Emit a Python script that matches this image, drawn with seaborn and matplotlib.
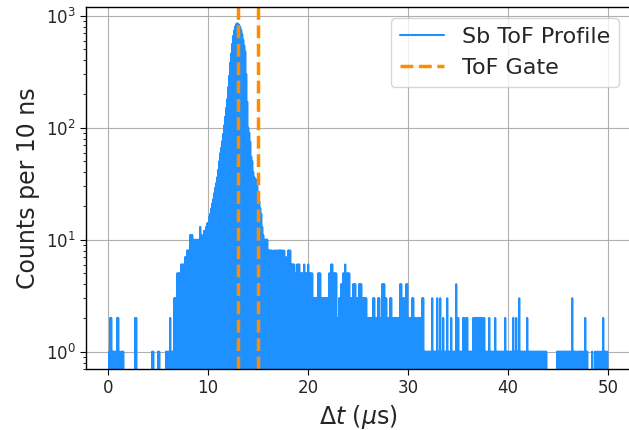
import numpy as np
import pandas as pd
import matplotlib
matplotlib.use("Agg")
import matplotlib.pyplot as plt
import seaborn as sns

# Max counts per 10 ns found within each 0.1 us window
counts_00_10 = [0, 1, 2, 2, 1, 1, 1, 1, 1, 2,
                2, 1, 0, 1, 1, 1, 0, 0, 0, 0,
                0, 0, 0, 0, 0, 0, 0, 2, 2, 0,
                0, 0, 0, 0, 0, 0, 0, 0, 0, 0,
                0, 0, 0, 0, 1, 1, 0, 0, 0, 0,
                1, 1, 0, 0, 0, 0, 0, 0, 1, 1,
                1, 1, 2, 1, 1, 1, 3, 3, 3, 5,
                5, 5, 5, 6, 6, 6, 6, 7, 7, 8,
                8, 8, 11, 11, 11, 9, 10, 9, 10, 9,
                10, 9, 13, 11, 10, 11, 12, 12, 13, 14]
counts_10_20 = [14, 16, 17, 19, 21, 23, 26, 29, 32, 36,
                42, 50, 59, 66, 76, 88, 105, 125, 150, 180,
                230, 290, 380, 460, 560, 660, 740, 800, 840, 855,
                845, 820, 790, 740, 680, 610, 540, 480, 300, 170,
                100, 90, 75, 55, 50, 40, 36, 35, 34, 30,
                24, 22, 19, 17, 13, 11, 10, 10, 10, 10,
                8, 8, 8, 8, 7, 8, 7, 8, 8, 5,
                8, 8, 8, 8, 8, 7, 8, 7, 4, 7,
                8, 8, 8, 6, 6, 6, 6, 5, 5, 6,
                6, 6, 5, 5, 5, 5, 6, 5, 5, 5]
counts_20_30 = [6, 5, 5, 5, 5, 3, 3, 3, 3, 3,
                5, 5, 5, 3, 3, 3, 3, 3, 3, 3,
                3, 5, 5, 6, 6, 5, 5, 5, 5, 2,
                2, 3, 3, 4, 4, 5, 5, 6, 3, 5,
                5, 5, 3, 3, 3, 4, 4, 4, 3, 3,
                3, 4, 4, 4, 3, 3, 3, 3, 3, 2,
                2, 2, 2, 2, 1, 3, 3, 2, 2, 2,
                3, 3, 2, 1, 4, 4, 4, 3, 3, 2,
                2, 2, 3, 3, 1, 2, 2, 2, 2, 2,
                2, 2, 4, 4, 3, 3, 3, 2, 4, 4]
counts_30_40 = [2, 2, 2, 2, 3, 3, 2, 2, 1, 2,
                2, 2, 2, 2, 3, 3, 1, 1, 1, 1,
                1, 1, 1, 1, 3, 1, 1, 1, 1, 3,
                1, 1, 3, 1, 1, 2, 1, 1, 1, 3,
                1, 1, 1, 2, 1, 1, 1, 1, 4, 1,
                2, 1, 1, 1, 1, 2, 2, 1, 2, 2,
                1, 1, 1, 1, 1, 2, 2, 2, 2, 2,
                2, 2, 2, 2, 2, 1, 2, 1, 1, 1,
                1, 2, 1, 1, 1, 1, 1, 2, 1, 1,
                1, 1, 1, 1, 1, 1, 1, 2, 1, 1]
counts_40_50 = [1, 1, 1, 1, 1, 2, 1, 1, 2, 1,
                1, 3, 1, 1, 1, 1, 1, 1, 1, 2,
                1, 1, 1, 1, 1, 1, 1, 1, 1, 1,
                1, 1, 1, 1, 1, 1, 1, 1, 1, 0,
                0, 0, 0, 0, 0, 0, 0, 0, 0, 1,
                1, 1, 1, 1, 1, 1, 1, 1, 1, 1,
                1, 1, 1, 1, 3, 1, 1, 1, 1, 0,
                1, 1, 1, 1, 1, 1, 1, 2, 1, 1,
                0, 0, 0, 0, 1, 0, 0, 1, 0, 1,
                1, 1, 0, 1, 1, 2, 1, 1, 1, 1]

bin_width_us = 0.1
gate_us = [13.0, 15.0]

profile_label = "Sb ToF Profile"
gate_label = "ToF Gate"
xlabel = r"$\Delta t$ ($\mu$s)"
ylabel = "Counts per 10 ns"

counts = np.array(counts_00_10 + counts_10_20 + counts_20_30 + counts_30_40 + counts_40_50, dtype=float)
x_bins = np.arange(len(counts)) * bin_width_us
# most 10-ns sub-bins are empty: each window holds its max value followed by an empty bin
x_pts = np.column_stack([x_bins + 0.02, x_bins + 0.07]).ravel()
y_pts = np.column_stack([counts, np.zeros_like(counts)]).ravel()
df = pd.DataFrame({"t": x_pts, "c": y_pts})

sns.set_style("ticks")
plt.rcParams["font.family"] = ["DejaVu Sans"]

fig = plt.figure(figsize=(6.29, 4.30), dpi=100)
ax = fig.add_axes([86 / 629, 1 - 369 / 430, 544 / 629, 362 / 430])

sns.lineplot(data=df, x="t", y="c", ax=ax, color="#1E90FF", lw=1.5,
             estimator=None, sort=False, label=profile_label)
ax.axvline(gate_us[0], color="#FF8C00", ls="--", lw=2.5, label=gate_label)
ax.axvline(gate_us[1], color="#FF8C00", ls="--", lw=2.5)

ax.set_yscale("log")
ax.set_xlim(-2.2, 52.2)
ax.set_ylim(0.70, 1195)
ax.set_xticks([0, 10, 20, 30, 40, 50])
ax.grid(True, which="major", color="#b0b0b0", lw=0.8)
ax.tick_params(axis="both", which="major", labelsize=12, direction="out", length=4, color="black")
ax.tick_params(axis="y", which="minor", direction="out", length=2, color="black")
for s in ax.spines.values():
    s.set_color("black")
    s.set_linewidth(1.0)

ax.set_xlabel(xlabel, fontsize=17)
ax.set_ylabel(ylabel, fontsize=17)
ax.legend(loc="upper right", fontsize=16, frameon=True)

fig.savefig("out.png", dpi=100)
